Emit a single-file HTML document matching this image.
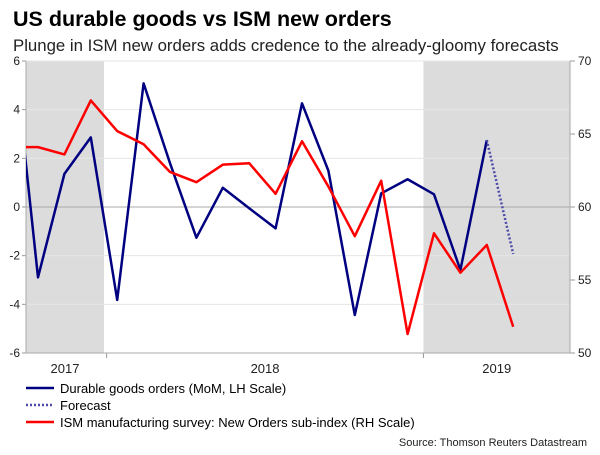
<!DOCTYPE html>
<html><head><meta charset="utf-8"><style>
body{margin:0;background:#fff;font-family:"Liberation Sans",Arial,sans-serif;}
svg text{font-family:"Liberation Sans",Arial,sans-serif;}
</style></head><body>
<svg id="c" width="600" height="450" xmlns="http://www.w3.org/2000/svg">
<text x="13" y="26" font-size="21.5" font-weight="bold" fill="#000">US durable goods vs ISM new orders</text>
<text x="13" y="51" font-size="16.8" fill="#222">Plunge in ISM new orders adds credence to the already-gloomy forecasts</text>
<g id="plot"></g>
<g>
<g><line x1="26" y1="388" x2="54" y2="388" stroke="#000080" stroke-width="2.5"/><text x="60" y="393" font-size="13" fill="#000">Durable goods orders (MoM, LH Scale)</text></g>
<g><line x1="26" y1="405" x2="54" y2="405" stroke="#4b4ba8" stroke-width="2.5" stroke-dasharray="2,2"/><text x="60" y="410" font-size="13" fill="#000">Forecast</text></g>
<g><line x1="26" y1="422" x2="54" y2="422" stroke="#ff0000" stroke-width="2.5"/><text x="60" y="427" font-size="13" fill="#000">ISM manufacturing survey: New Orders sub-index (RH Scale)</text></g>
</g>
<text x="587" y="446" font-size="11" text-anchor="end" fill="#222">Source: Thomson Reuters Datastream</text>
</svg>
<script>
const durable=[7.3,-2.89,1.36,2.86,-3.82,5.08,1.8,-1.26,0.79,-0.05,-0.88,4.26,1.49,-4.44,0.56,1.14,0.52,-2.59,2.75];
const forecast=[2.75,-1.93];
const ism=[64.1,64.1,63.6,67.3,65.2,64.3,62.4,61.7,62.9,63.0,60.9,64.5,61.4,58.0,61.8,51.3,58.2,55.5,57.4,51.8];
const leftTicks=[6,4,2,0,-2,-4,-6];
const rightTicks=[70,65,60,55,50];
const yearLabels=["2017","2018","2019"];
const yearSpans=[[-1.0,3.5],[3.6,15.6],[15.6,22.0]];
const shaded=[[-1.0,3.5],[15.6,22.0]];

const L=26,R=570,T=61,B=353;
const NS="http://www.w3.org/2000/svg";
const g=document.getElementById('plot');
function x(i){return 38+(i-1)*26.4;}
function yL(v){return T+(6-v)/12*(B-T);}
function yR(v){return T+(70-v)/20*(B-T);}
function mk(t,a){const e=document.createElementNS(NS,t);for(const k in a)e.setAttribute(k,a[k]);g.appendChild(e);return e;}
const defs=mk('defs',{});
const cp=document.createElementNS(NS,'clipPath');cp.setAttribute('id','clip');
const cr=document.createElementNS(NS,'rect');cr.setAttribute('x',L);cr.setAttribute('y',T-5);cr.setAttribute('width',R-L);cr.setAttribute('height',B-T+10);
cp.appendChild(cr);defs.appendChild(cp);
shaded.forEach(s=>{const x1=Math.max(L,x(s[0])),x2=Math.min(R,x(s[1]));
const r=mk('rect',{x:x1,y:T,width:x2-x1,height:B-T,fill:'#dcdcdc'});

});
leftTicks.forEach(v=>{const l=mk('line',{x1:L,x2:R,y1:yL(v),y2:yL(v),stroke:v===0?'#aaa':'#e6e6e6','stroke-width':1});


const t=mk('text',{x:L-6,y:yL(v)+4,'font-size':12,'text-anchor':'end',fill:'#222'});t.textContent=v;


mk('line',{x1:L-4,x2:L,y1:yL(v),y2:yL(v),stroke:'#999'});});
rightTicks.forEach(v=>{const t=mk('text',{x:R+8,y:yR(v)+4,'font-size':12,fill:'#222'});t.textContent=v;


mk('line',{x1:R,x2:R+5,y1:yR(v),y2:yR(v),stroke:'#999'});});
mk('line',{x1:L,x2:L,y1:T,y2:B,stroke:'#aaa'});
mk('line',{x1:R,x2:R,y1:T,y2:B,stroke:'#aaa'});
mk('line',{x1:L,x2:R,y1:B,y2:B,stroke:'#aaa'});
yearSpans.forEach((s,i)=>{const x1=Math.max(L,x(s[0])),x2=Math.min(R,x(s[1]));
const t=mk('text',{x:(x1+x2)/2,y:B+20,'font-size':13,'text-anchor':'middle',fill:'#222'});t.textContent=yearLabels[i];


if(s[0]>0)mk('line',{x1:x(s[0]),x2:x(s[0]),y1:B,y2:B+5,stroke:'#999'});});
const pd=durable.map((v,i)=>(i?'L':'M')+x(i)+','+yL(v)).join('');
const p1=mk('path',{d:pd,fill:'none',stroke:'#000080','stroke-width':2.5,'clip-path':'url(#clip)','stroke-linejoin':'round'});


const off=durable.length-1;
const pf=forecast.map((v,i)=>(i?'L':'M')+x(off+i)+','+yL(v)).join('');
const p2=mk('path',{d:pf,fill:'none',stroke:'#4b4ba8','stroke-width':2.5,'stroke-dasharray':'2,2'});


const pi=ism.map((v,i)=>(i?'L':'M')+x(i)+','+yR(v)).join('');
const p3=mk('path',{d:pi,fill:'none',stroke:'#ff0000','stroke-width':2.5,'clip-path':'url(#clip)','stroke-linejoin':'round'});


</script>
</body></html>
